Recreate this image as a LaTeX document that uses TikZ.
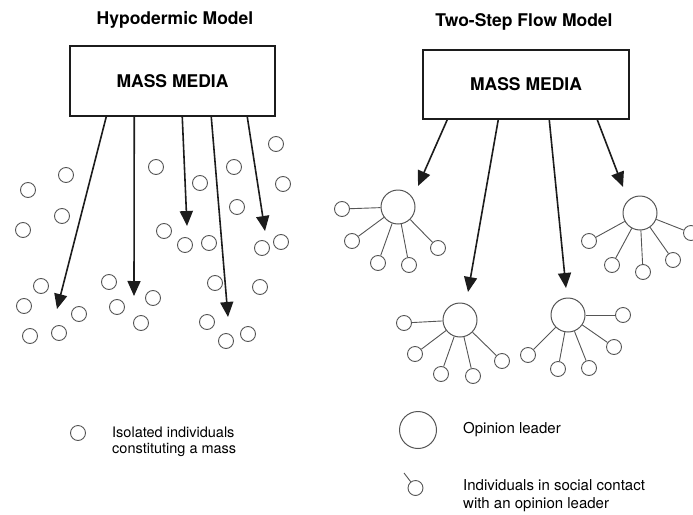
\documentclass[tikz,border=0pt]{standalone}
\usepackage{fontspec}
\setmainfont{TeX Gyre Heros}
\usetikzlibrary{arrows.meta}
\definecolor{Ink}{HTML}{1C1C1C}
\definecolor{Pencil}{HTML}{555555}

\begin{document}
\begin{tikzpicture}[x=1pt,y=-1pt,
  title/.style={font=\bfseries\fontsize{17.5}{21}\selectfont},
  media/.style={draw=Ink,line width=1.5pt,minimum width=205pt,minimum height=70pt,
    inner sep=0pt,font=\bfseries\fontsize{17.5}{21}\selectfont},
  person/.style={circle,draw=Pencil,line width=.9pt,minimum size=15pt,inner sep=0pt},
  leader/.style={circle,draw=Pencil,line width=1pt,minimum size=34pt,inner sep=0pt},
  tie/.style={draw=Pencil,line width=.9pt},
  arrow/.style={-{Triangle[length=15pt,width=13pt]},line width=1.6pt,draw=Ink},
  keytext/.style={align=left,inner sep=0pt,font=\fontsize{15}{18}\selectfont}]
\useasboundingbox (0,0) rectangle (693,514);
% hypodermic model
\node[title](hypoTitle) at (175,20){Hypodermic Model};
\node[media](hypoMedia) at (172.5,81){MASS MEDIA};
\node[person](m1) at (276,144){};\node[person](m2) at (156,167){};\node[person](m3) at (234,167){};
\node[person](m4) at (66,175){};\node[person](m5) at (283,184){};\node[person](m6) at (200,183){};
\node[person](m7) at (28,190){};\node[person](m8) at (62,216){};\node[person](m9) at (23,230){};
\node[person](m10) at (237,207){};\node[person](m11) at (164,231){};\node[person](m12) at (185,245){};
\node[person](m13) at (209,243){};\node[person](m14) at (262,248){};\node[person](m15) at (281,242){};
\node[person](m16) at (41,286){};\node[person](m17) at (109,282){};\node[person](m18) at (215,283){};
\node[person](m19) at (260,287){};\node[person](m20) at (24,306){};\node[person](m21) at (79,314){};
\node[person](m22) at (117,307){};\node[person](m23) at (153,298){};\node[person](m24) at (207,322){};
\node[person](m25) at (141,323){};\node[person](m26) at (30,336){};\node[person](m27) at (59,333){};
\node[person](m28) at (226,341){};\node[person](m29) at (248,334){};
\coordinate(hit1) at (57,309);\coordinate(hit2) at (134,296);\coordinate(hit3) at (187,226);
\coordinate(hit4) at (228,317);\coordinate(hit5) at (265,231);
\draw[arrow]([xshift=37pt]hypoMedia.south west)--(hit1);
\draw[arrow]([xshift=65pt]hypoMedia.south west)--(hit2);
\draw[arrow]([xshift=113pt]hypoMedia.south west)--(hit3);
\draw[arrow]([xshift=142pt]hypoMedia.south west)--(hit4);
\draw[arrow]([xshift=178pt]hypoMedia.south west)--(hit5);
% two-step flow model
\node[title](flowTitle) at (524,22){Two-Step Flow Model};
\node[media,minimum width=206pt,minimum height=69pt](flowMedia) at (526,84.5){MASS MEDIA};
\node[leader](leaderW) at (398,207){};
\node[person](w1) at (342,209){};\node[person](w2) at (352,241){};\node[person](w3) at (378,263){};
\node[person](w4) at (409,265){};\node[person](w5) at (438,248){};
\draw[tie](leaderW)--(w1);\draw[tie](leaderW)--(w2);\draw[tie](leaderW)--(w3);\draw[tie](leaderW)--(w4);\draw[tie](leaderW)--(w5);
\node[leader](leaderE) at (640,213){};
\node[person](e1) at (589,241){};\node[person](e2) at (612,265){};\node[person](e3) at (643,272){};
\node[person](e4) at (673,260){};\node[person](e5) at (691,233){};
\draw[tie](leaderE)--(e1);\draw[tie](leaderE)--(e2);\draw[tie](leaderE)--(e3);\draw[tie](leaderE)--(e4);\draw[tie](leaderE)--(e5);
\node[leader](leaderSW) at (460,320){};
\node[person](s1) at (404,323){};\node[person](s2) at (415,354){};\node[person](s3) at (441,374){};
\node[person](s4) at (473,376){};\node[person](s5) at (502,361){};
\draw[tie](leaderSW)--(s1);\draw[tie](leaderSW)--(s2);\draw[tie](leaderSW)--(s3);\draw[tie](leaderSW)--(s4);\draw[tie](leaderSW)--(s5);
\node[leader](leaderSE) at (568,315){};
\node[person](t1) at (623,315){};\node[person](t2) at (614,347){};\node[person](t3) at (589,368){};
\node[person](t4) at (558,369){};\node[person](t5) at (528,355){};
\draw[tie](leaderSE)--(t1);\draw[tie](leaderSE)--(t2);\draw[tie](leaderSE)--(t3);\draw[tie](leaderSE)--(t4);\draw[tie](leaderSE)--(t5);
\coordinate(reach1) at (418,186);\coordinate(reach2) at (468,292);
\coordinate(reach3) at (566,288);\coordinate(reach4) at (623,187);
\draw[arrow]([xshift=25pt]flowMedia.south west)--(reach1);
\draw[arrow]([xshift=76pt]flowMedia.south west)--(reach2);
\draw[arrow]([xshift=127pt]flowMedia.south west)--(reach3);
\draw[arrow]([xshift=175pt]flowMedia.south west)--(reach4);
% legends
\node[person](isoKey) at (78,433){};
\node[keytext,font=\fontsize{14.5}{16.5}\selectfont,anchor=west](isoText) at (112,442){Isolated individuals\\constituting a mass};
\node[leader,minimum size=37pt](leaderKey) at (418,430){};
\node[keytext,anchor=base west](leaderText) at (463,433){Opinion leader};
\node[person](contactKey) at (415.5,488){};\coordinate(contactStub) at (404,473);
\draw[tie](contactKey)--(contactStub);
\node[keytext,anchor=west](contactText) at (463,496){Individuals in social contact\\with an opinion leader};
\end{tikzpicture}
\end{document}
